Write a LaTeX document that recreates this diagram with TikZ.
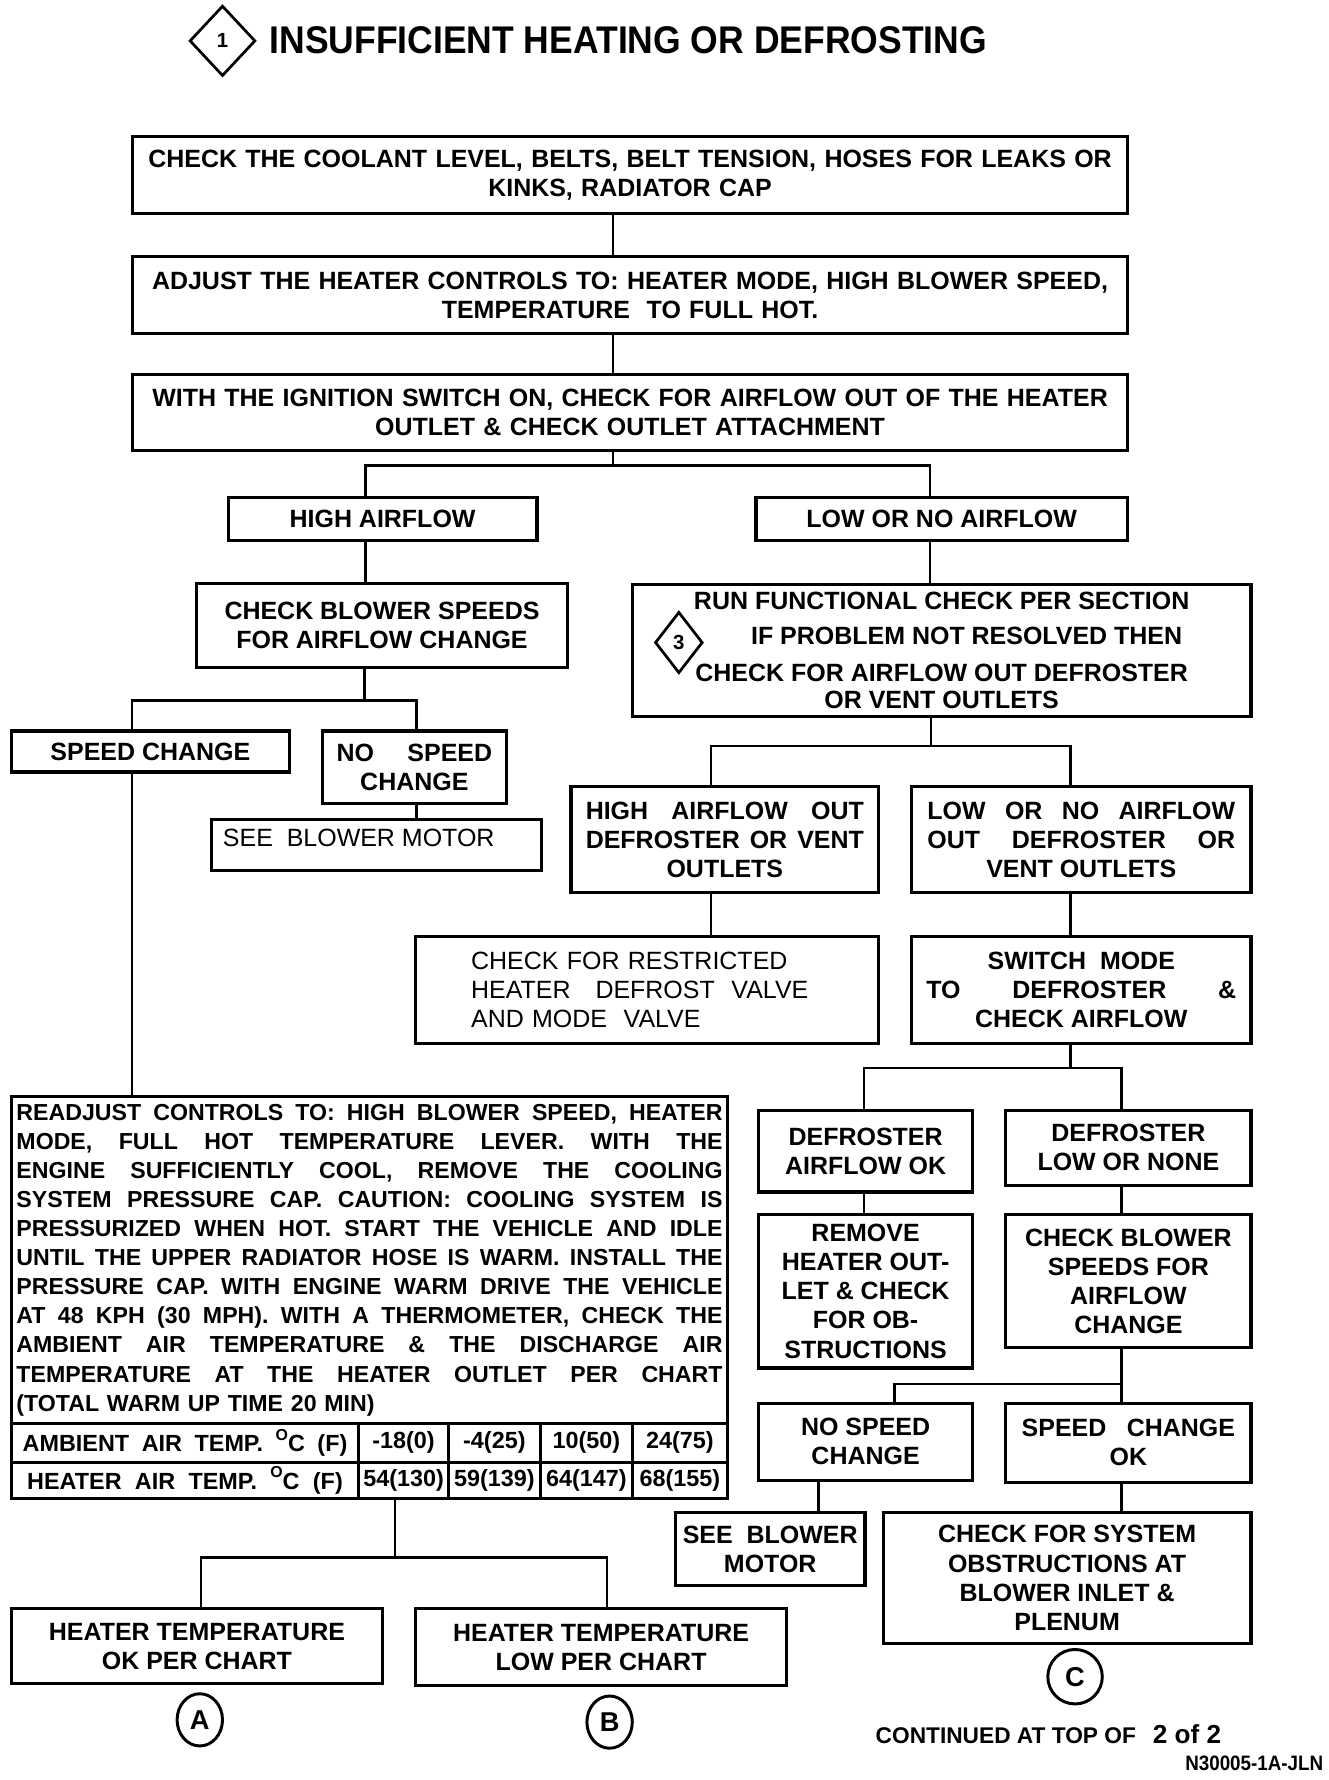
\documentclass[tikz,border=0pt]{standalone}
\usepackage{fontspec}
\setmainfont{Liberation Sans}
\newfontfamily\ttlfont[FakeStretch=0.92]{Liberation Sans}
\newfontfamily\cndfont[FakeStretch=0.9]{Liberation Sans}
\usetikzlibrary{shapes.geometric}
\newcommand{\degc}{\raisebox{0.9ex}{\fontsize{7}{7}\selectfont O}C}
\newcommand{\jline}[1]{\leavevmode\hbox to 311pt{\spaceskip=0.28em plus 10em minus 0.05em\relax #1}}
\begin{document}
\begin{tikzpicture}[x=0.5pt,y=-0.5pt,
  bx/.style={draw, line width=1.4pt, inner sep=0pt, align=center, font=\fontsize{11}{12.8}\selectfont\bfseries},
  lt/.style={bx, font=\fontsize{11}{12.8}\selectfont},
  cell/.style={draw, line width=1.2pt, inner sep=0pt, align=center, font=\fontsize{10.3}{12}\selectfont\bfseries},
  ln/.style={line width=1pt},
  dia/.style={draw, diamond, line width=1.2pt, inner sep=0pt, font=\fontsize{9}{9}\selectfont\bfseries},
  ring/.style={draw, ellipse, line width=1.3pt, inner sep=0pt, font=\fontsize{12}{12}\selectfont\bfseries}]
\useasboundingbox[fill=white] (0,0) rectangle (1170,1568);

% title
\node[dia, minimum width=29pt, minimum height=31pt] (d1) at (196,36) {1};
\node[anchor=west, inner sep=0pt, font=\ttlfont\fontsize{17}{17}\selectfont\bfseries] (title) at (237,35) {INSUFFICIENT HEATING OR DEFROSTING};

% main column
\node[bx, minimum width=438pt, minimum height=34pt, text width=432pt] (b1) at (555,154)
  {CHECK THE COOLANT LEVEL, BELTS, BELT TENSION, HOSES FOR LEAKS OR\\KINKS, RADIATOR CAP};
\node[bx, minimum width=438pt, minimum height=34pt, text width=432pt] (b2) at (555,260)
  {ADJUST THE HEATER CONTROLS TO: HEATER MODE, HIGH BLOWER SPEED,\\TEMPERATURE\ \ TO FULL HOT.};
\node[bx, minimum width=438pt, minimum height=33.5pt, text width=432pt] (b3) at (555,363.5)
  {WITH THE IGNITION SWITCH ON, CHECK FOR AIRFLOW OUT OF THE HEATER\\OUTLET \& CHECK OUTLET ATTACHMENT};

\node[bx, minimum width=136pt, minimum height=19pt] (high) at (337,457) {HIGH AIRFLOW};
\node[bx, minimum width=163.5pt, minimum height=19pt] (low) at (829.5,457) {LOW OR NO AIRFLOW};

\node[bx, minimum width=163.5pt, minimum height=37pt] (cbs) at (336.5,551) {CHECK BLOWER SPEEDS\\FOR AIRFLOW CHANGE};
\node[bx, minimum width=272.5pt, minimum height=58pt] (run) at (829.5,573)
  {RUN FUNCTIONAL CHECK PER SECTION\\[2.7pt]\hspace*{22pt}IF PROBLEM NOT RESOLVED THEN\\[3.2pt]CHECK FOR AIRFLOW OUT DEFROSTER\\[-0.8pt]OR VENT OUTLETS};
\node[dia, minimum width=21pt, minimum height=27pt] (d3) at (598,566) {3};

\node[bx, minimum width=122.5pt, minimum height=18pt] (sc) at (132.5,662) {SPEED CHANGE};
\node[bx, minimum width=81pt, minimum height=32pt] (nsc) at (365,676) {\makebox[68.5pt][s]{NO SPEED}\\CHANGE};
\node[lt, minimum width=145.5pt, minimum height=22.5pt] (sbm) at (331.5,744.5) {};
\node[anchor=west, inner sep=0pt, font=\fontsize{11}{12.8}\selectfont] (sbmt) at (196,738) {SEE\ \ BLOWER MOTOR};

\node[bx, minimum width=135.5pt, minimum height=46.5pt] (hao) at (638.5,739.5)
  {\makebox[122.5pt][s]{HIGH AIRFLOW OUT}\\\makebox[122.5pt][s]{DEFROSTER OR VENT}\\OUTLETS};
\node[bx, minimum width=149.5pt, minimum height=46.5pt] (lno) at (952.5,739.5)
  {\makebox[135.5pt][s]{LOW OR NO AIRFLOW}\\\makebox[135.5pt][s]{OUT DEFROSTER OR}\\VENT OUTLETS};

\node[lt, minimum width=204pt, minimum height=47pt, text width=155pt, align=left] (cfr) at (570,872)
  {CHECK FOR RESTRICTED\\HEATER\ \ \ DEFROST\ \ VALVE\\AND MODE\ \ VALVE};
\node[bx, minimum width=149.5pt, minimum height=47pt] (sw) at (952.5,872)
  {SWITCH\ \ MODE\\\makebox[136.5pt][s]{TO DEFROSTER \&}\\CHECK AIRFLOW};

\node[bx, minimum width=94.5pt, minimum height=36pt] (dok) at (762.5,1014) {DEFROSTER\\AIRFLOW OK};
\node[bx, minimum width=108pt, minimum height=33pt] (dlow) at (994,1011) {DEFROSTER\\LOW OR NONE};
\node[bx, minimum width=94.5pt, minimum height=67.5pt] (rem) at (762.5,1137.5)
  {REMOVE\\HEATER OUT-\\LET \& CHECK\\FOR OB-\\STRUCTIONS};
\node[bx, minimum width=108pt, minimum height=58.5pt] (cbs2) at (994,1128.5)
  {CHECK BLOWER\\SPEEDS FOR\\AIRFLOW\\CHANGE};
\node[bx, minimum width=94.5pt, minimum height=34pt] (nsc2) at (762.5,1270) {NO SPEED\\CHANGE};
\node[bx, minimum width=108pt, minimum height=35pt] (sco) at (994,1271) {\makebox[94pt][s]{SPEED CHANGE}\\OK};
\node[bx, minimum width=83.5pt, minimum height=32.5pt] (sbm2) at (678.5,1364.5) {SEE\ \ BLOWER\\MOTOR};
\node[bx, minimum width=162pt, minimum height=58pt] (cfs) at (940,1390)
  {CHECK FOR SYSTEM\\OBSTRUCTIONS AT\\BLOWER INLET \&\\PLENUM};
\node[ring, minimum width=24pt, minimum height=24pt] (cc) at (947,1477) {C};

% readjust box and table
\node[bx, minimum width=315.5pt, minimum height=144pt, text width=311pt, align=left,
  font=\fontsize{10.2}{12.8}\selectfont\bfseries] (rj) at (325.5,1110) {%
\jline{READJUST CONTROLS TO: HIGH BLOWER SPEED, HEATER}\\
\jline{MODE, FULL HOT TEMPERATURE LEVER. WITH THE}\\
\jline{ENGINE SUFFICIENTLY COOL, REMOVE THE COOLING}\\
\jline{SYSTEM PRESSURE CAP. CAUTION: COOLING SYSTEM IS}\\
\jline{PRESSURIZED WHEN HOT. START THE VEHICLE AND IDLE}\\
\jline{UNTIL THE UPPER RADIATOR HOSE IS WARM. INSTALL THE}\\
\jline{PRESSURE CAP. WITH ENGINE WARM DRIVE THE VEHICLE}\\
\jline{AT 48 KPH (30 MPH). WITH A THERMOMETER, CHECK THE}\\
\jline{AMBIENT AIR TEMPERATURE \& THE DISCHARGE AIR}\\
\jline{TEMPERATURE AT THE HEATER OUTLET PER CHART}\\
(TOTAL WARM UP TIME 20 MIN)};

\node[cell, minimum width=153pt, minimum height=17pt] (t10) at (163,1271) {\makebox[143pt][s]{AMBIENT AIR TEMP. \degc{} (F)}};
\node[cell, minimum width=39.5pt, minimum height=17pt] (t11) at (355.5,1271) {-18(0)};
\node[cell, minimum width=40.5pt, minimum height=17pt] (t12) at (435.5,1271) {-4(25)};
\node[cell, minimum width=40.5pt, minimum height=17pt] (t13) at (516.5,1271) {10(50)};
\node[cell, minimum width=42pt, minimum height=17pt] (t14) at (599,1271) {24(75)};
\node[cell, minimum width=153pt, minimum height=16pt] (t20) at (163,1304) {\makebox[139pt][s]{HEATER AIR TEMP. \degc{} (F)}};
\node[cell, minimum width=39.5pt, minimum height=16pt] (t21) at (355.5,1304) {54(130)};
\node[cell, minimum width=40.5pt, minimum height=16pt] (t22) at (435.5,1304) {59(139)};
\node[cell, minimum width=40.5pt, minimum height=16pt] (t23) at (516.5,1304) {64(147)};
\node[cell, minimum width=42pt, minimum height=16pt] (t24) at (599,1304) {68(155)};

\node[bx, minimum width=163.5pt, minimum height=33pt] (hok) at (173.5,1450) {HEATER TEMPERATURE\\OK PER CHART};
\node[bx, minimum width=163.5pt, minimum height=34pt] (hlow) at (529.5,1451) {HEATER TEMPERATURE\\LOW PER CHART};
\node[ring, minimum width=20pt, minimum height=23pt] (ca) at (176,1515) {A};
\node[ring, minimum width=20pt, minimum height=23pt] (cb) at (537,1517) {B};

\node[anchor=west, inner sep=0pt, font=\fontsize{10}{10}\selectfont\bfseries] (cont) at (771,1528)
  {CONTINUED AT TOP OF\hspace{7.5pt}{\fontsize{11.5}{11.5}\selectfont 2 of 2}};
\node[anchor=east, inner sep=0pt, font=\cndfont\fontsize{9.2}{9.2}\selectfont\bfseries] (code) at (1166,1553) {N30005-1A-JLN};

% x positions of connectors
\coordinate (xa) at (540,0);
\coordinate (xb) at (322,0);
\coordinate (xc) at (819,0);
\coordinate (xd) at (116,0);
\coordinate (xe) at (367,0);
\coordinate (xf) at (626,0);
\coordinate (xg) at (943,0);
\coordinate (xh) at (761,0);
\coordinate (xi) at (988,0);
\coordinate (xj) at (788,0);
\coordinate (xk) at (721,0);
\coordinate (xm) at (177,0);
\coordinate (xn) at (535,0);
\coordinate (j1) at (540,410);
\coordinate (j2) at (321,617);
\coordinate (j3) at (820,657);
\coordinate (j4) at (943,941);
\coordinate (j5) at (988,1219);
\coordinate (j6) at (348,1372);

\draw[ln] (b1.south -| xa) -- (b2.north -| xa);
\draw[ln] (b2.south -| xa) -- (b3.north -| xa);
\draw[ln] (b3.south -| xa) -- (j1);
\draw[ln] (high.north -| xb) |- (j1) -| (low.north -| xc);
\draw[ln] (high.south -| xb) -- (cbs.north -| xb);
\draw[ln] (low.south -| xc) -- (run.north -| xc);
\draw[ln] (cbs.south -| j2) -- (j2);
\draw[ln] (sc.north -| xd) |- (j2) -| (nsc.north -| xe);
\draw[ln] (nsc.south -| xe) -- (sbm.north -| xe);
\draw[ln] (sc.south -| xd) -- (rj.north -| xd);
\draw[ln] (run.south -| j3) -- (j3);
\draw[ln] (hao.north -| xf) |- (j3) -| (lno.north -| xg);
\draw[ln] (hao.south -| xf) -- (cfr.north -| xf);
\draw[ln] (lno.south -| xg) -- (sw.north -| xg);
\draw[ln] (sw.south -| j4) -- (j4);
\draw[ln] (dok.north -| xh) |- (j4) -| (dlow.north -| xi);
\draw[ln] (dok.south -| xh) -- (rem.north -| xh);
\draw[ln] (dlow.south -| xi) -- (cbs2.north -| xi);
\draw[ln] (cbs2.south -| xi) -- (sco.north -| xi);
\draw[ln] (j5) -| (nsc2.north -| xj);
\draw[ln] (nsc2.south -| xk) -- (sbm2.north -| xk);
\draw[ln] (sco.south -| xi) -- (cfs.north -| xi);
\draw[ln] (t21.south -| j6) -- (j6);
\draw[ln] (hok.north -| xm) |- (j6) -| (hlow.north -| xn);
\end{tikzpicture}
\end{document}
